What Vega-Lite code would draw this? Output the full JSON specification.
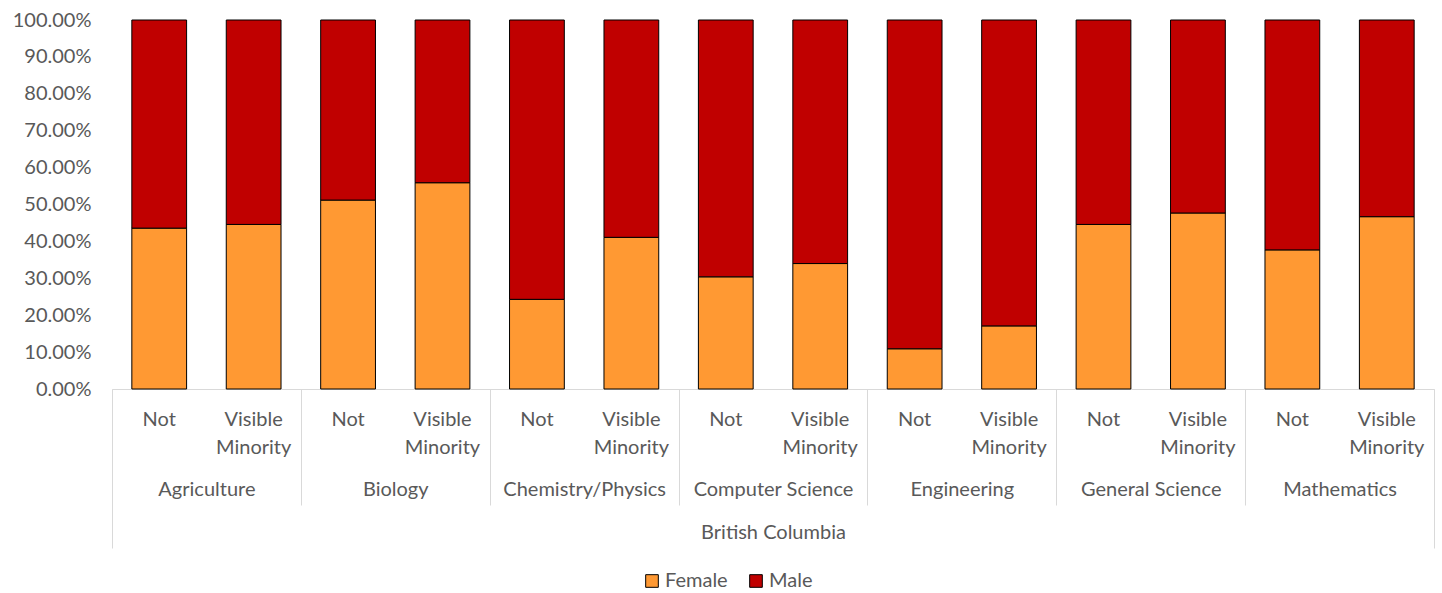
{
  "$schema": "https://vega.github.io/schema/vega-lite/v6.json",
  "width": 1322,
  "height": 369,
  "autosize": {"type": "none"},
  "padding": {"left": 112, "top": 20, "right": 8, "bottom": 204},
  "background": "white",
  "config": {
    "view": {"stroke": null},
    "font": "Lato",
    "axis": {"labelFont": "Lato", "labelColor": "#595959", "labelFontSize": 20, "grid": false}
  },
  "datasets": {
    "shares": [
      {"region": "British Columbia", "field": "Agriculture", "key": "Agriculture|Not", "sex": "Female", "share": 0.436},
      {"region": "British Columbia", "field": "Agriculture", "key": "Agriculture|Not", "sex": "Male", "share": 0.564},
      {"region": "British Columbia", "field": "Agriculture", "key": "Agriculture|Visible Minority", "sex": "Female", "share": 0.446},
      {"region": "British Columbia", "field": "Agriculture", "key": "Agriculture|Visible Minority", "sex": "Male", "share": 0.554},
      {"region": "British Columbia", "field": "Biology", "key": "Biology|Not", "sex": "Female", "share": 0.512},
      {"region": "British Columbia", "field": "Biology", "key": "Biology|Not", "sex": "Male", "share": 0.488},
      {"region": "British Columbia", "field": "Biology", "key": "Biology|Visible Minority", "sex": "Female", "share": 0.559},
      {"region": "British Columbia", "field": "Biology", "key": "Biology|Visible Minority", "sex": "Male", "share": 0.441},
      {"region": "British Columbia", "field": "Chemistry/Physics", "key": "Chemistry/Physics|Not", "sex": "Female", "share": 0.243},
      {"region": "British Columbia", "field": "Chemistry/Physics", "key": "Chemistry/Physics|Not", "sex": "Male", "share": 0.757},
      {"region": "British Columbia", "field": "Chemistry/Physics", "key": "Chemistry/Physics|Visible Minority", "sex": "Female", "share": 0.411},
      {"region": "British Columbia", "field": "Chemistry/Physics", "key": "Chemistry/Physics|Visible Minority", "sex": "Male", "share": 0.589},
      {"region": "British Columbia", "field": "Computer Science", "key": "Computer Science|Not", "sex": "Female", "share": 0.304},
      {"region": "British Columbia", "field": "Computer Science", "key": "Computer Science|Not", "sex": "Male", "share": 0.696},
      {"region": "British Columbia", "field": "Computer Science", "key": "Computer Science|Visible Minority", "sex": "Female", "share": 0.340},
      {"region": "British Columbia", "field": "Computer Science", "key": "Computer Science|Visible Minority", "sex": "Male", "share": 0.660},
      {"region": "British Columbia", "field": "Engineering", "key": "Engineering|Not", "sex": "Female", "share": 0.109},
      {"region": "British Columbia", "field": "Engineering", "key": "Engineering|Not", "sex": "Male", "share": 0.891},
      {"region": "British Columbia", "field": "Engineering", "key": "Engineering|Visible Minority", "sex": "Female", "share": 0.171},
      {"region": "British Columbia", "field": "Engineering", "key": "Engineering|Visible Minority", "sex": "Male", "share": 0.829},
      {"region": "British Columbia", "field": "General Science", "key": "General Science|Not", "sex": "Female", "share": 0.446},
      {"region": "British Columbia", "field": "General Science", "key": "General Science|Not", "sex": "Male", "share": 0.554},
      {"region": "British Columbia", "field": "General Science", "key": "General Science|Visible Minority", "sex": "Female", "share": 0.477},
      {"region": "British Columbia", "field": "General Science", "key": "General Science|Visible Minority", "sex": "Male", "share": 0.523},
      {"region": "British Columbia", "field": "Mathematics", "key": "Mathematics|Not", "sex": "Female", "share": 0.377},
      {"region": "British Columbia", "field": "Mathematics", "key": "Mathematics|Not", "sex": "Male", "share": 0.623},
      {"region": "British Columbia", "field": "Mathematics", "key": "Mathematics|Visible Minority", "sex": "Female", "share": 0.467},
      {"region": "British Columbia", "field": "Mathematics", "key": "Mathematics|Visible Minority", "sex": "Male", "share": 0.533}
    ]
  },
  "data": {"name": "shares"},
  "layer": [
    {
      "mark": {"type": "bar", "stroke": "#000000", "strokeWidth": 1},
      "encoding": {
        "x": {
          "field": "key", "type": "nominal", "sort": null, "title": null,
          "scale": {"type": "band", "paddingInner": 0.42, "paddingOuter": 0.21},
          "axis": {
            "orient": "bottom",
            "labelExpr": "split(datum.label, '|')[1] == 'Not' ? 'Not' : ['Visible', 'Minority']",
            "labelAngle": 0, "labelBaseline": "top", "labelPadding": 20, "labelLineHeight": 28,
            "ticks": false, "domain": true, "domainColor": "#d9d9d9", "domainWidth": 1
          }
        },
        "y": {
          "field": "share", "type": "quantitative", "stack": "zero", "title": null,
          "scale": {"domain": [0, 1], "nice": false},
          "axis": {"format": ".2%", "values": [0, 0.1, 0.2, 0.3, 0.4, 0.5, 0.6, 0.7, 0.8, 0.9, 1], "domain": false, "ticks": false, "labelPadding": 21}
        },
        "color": {
          "field": "sex", "type": "nominal", "title": null,
          "scale": {"domain": ["Female", "Male"], "range": ["#FF9933", "#C00000"]},
          "legend": {
            "orient": "none", "legendX": 530, "legendY": 551, "direction": "horizontal", "symbolType": "square", "symbolSize": 160,
            "symbolStrokeColor": "#000000", "symbolStrokeWidth": 1, "labelFont": "Lato", "labelFontSize": 20,
            "labelColor": "#595959", "columnPadding": 18, "labelOffset": 3
          }
        },
        "order": {"field": "sex", "sort": "ascending"}
      }
    },
    {
      "mark": {"type": "rule", "opacity": 0},
      "encoding": {
        "x": {
          "field": "field", "type": "nominal", "sort": null, "title": null,
          "scale": {"type": "band", "paddingInner": 0, "paddingOuter": 0},
          "axis": {
            "orient": "bottom", "labelAngle": 0, "labelBaseline": "top", "labelPadding": -26,
            "ticks": true, "tickBand": "extent", "tickSize": 116, "tickColor": "#d9d9d9", "tickWidth": 1, "domain": false
          }
        }
      }
    },
    {
      "mark": {"type": "rule", "opacity": 0},
      "encoding": {
        "x": {
          "field": "region", "type": "nominal", "title": null,
          "scale": {"type": "band", "paddingInner": 0, "paddingOuter": 0},
          "axis": {
            "orient": "bottom", "labelAngle": 0, "labelBaseline": "top", "labelPadding": -26,
            "ticks": true, "tickBand": "extent", "tickSize": 159, "tickColor": "#d9d9d9", "tickWidth": 1, "domain": false
          }
        }
      }
    }
  ],
  "resolve": {"scale": {"x": "independent"}, "axis": {"x": "independent"}}
}
